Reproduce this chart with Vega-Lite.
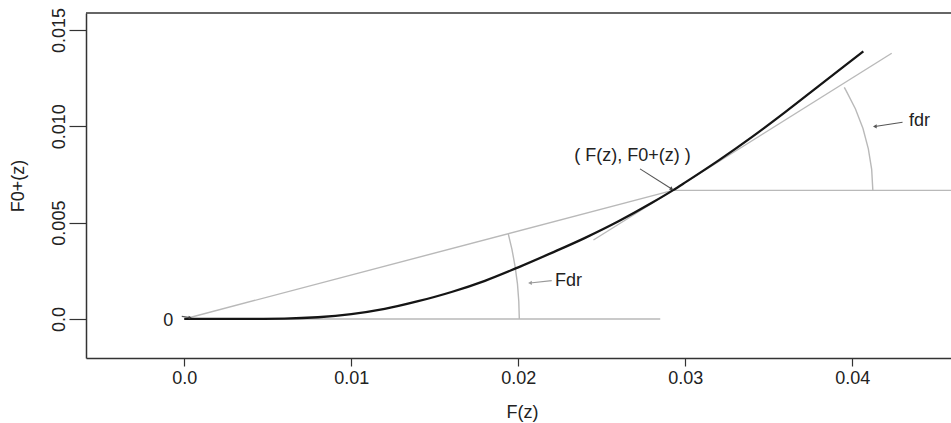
{
  "$schema": "https://vega.github.io/schema/vega-lite/v6.json",
  "width": 865,
  "height": 345,
  "autosize": "none",
  "padding": {"left": 86, "top": 13, "right": 0, "bottom": 65},
  "background": "white",
  "config": {"view": {"stroke": null}, "font": "Liberation Sans"},
  "datasets": {
    "lines": [
      {"series": "F0", "i": 0, "F": 0, "y": 0},
      {"series": "F0", "i": 1, "F": 0.002, "y": 0},
      {"series": "F0", "i": 2, "F": 0.004, "y": 0.000005},
      {"series": "F0", "i": 3, "F": 0.006, "y": 0.00002},
      {"series": "F0", "i": 4, "F": 0.008, "y": 0.00009},
      {"series": "F0", "i": 5, "F": 0.010, "y": 0.00025},
      {"series": "F0", "i": 6, "F": 0.012, "y": 0.00052},
      {"series": "F0", "i": 7, "F": 0.014, "y": 0.00092},
      {"series": "F0", "i": 8, "F": 0.016, "y": 0.00140},
      {"series": "F0", "i": 9, "F": 0.018, "y": 0.00198},
      {"series": "F0", "i": 10, "F": 0.020, "y": 0.00268},
      {"series": "F0", "i": 11, "F": 0.022, "y": 0.00343},
      {"series": "F0", "i": 12, "F": 0.024, "y": 0.00421},
      {"series": "F0", "i": 13, "F": 0.026, "y": 0.00507},
      {"series": "F0", "i": 14, "F": 0.028, "y": 0.00603},
      {"series": "F0", "i": 15, "F": 0.02925, "y": 0.006675},
      {"series": "F0", "i": 16, "F": 0.030, "y": 0.00709},
      {"series": "F0", "i": 17, "F": 0.032, "y": 0.00823},
      {"series": "F0", "i": 18, "F": 0.034, "y": 0.00945},
      {"series": "F0", "i": 19, "F": 0.036, "y": 0.01075},
      {"series": "F0", "i": 20, "F": 0.038, "y": 0.01210},
      {"series": "F0", "i": 21, "F": 0.0395, "y": 0.01311},
      {"series": "F0", "i": 22, "F": 0.04066, "y": 0.01389},

      {"series": "chord", "i": 0, "F": 0, "y": 0},
      {"series": "chord", "i": 1, "F": 0.02925, "y": 0.006675},
      {"series": "level", "i": 0, "F": 0.02925, "y": 0.006675},
      {"series": "level", "i": 1, "F": 0.04591, "y": 0.006675},
      {"series": "base", "i": 0, "F": 0, "y": 0},
      {"series": "base", "i": 1, "F": 0.0285, "y": 0},
      {"series": "tangent", "i": 0, "F": 0.0245, "y": 0.00410},
      {"series": "tangent", "i": 1, "F": 0.04236, "y": 0.01379},
      {"series": "arcFdr", "i": 0, "F": 0.02006, "y": 0},
      {"series": "arcFdr", "i": 1, "F": 0.02003, "y": 0.000910},
      {"series": "arcFdr", "i": 2, "F": 0.01995, "y": 0.001818},
      {"series": "arcFdr", "i": 3, "F": 0.01981, "y": 0.002720},
      {"series": "arcFdr", "i": 4, "F": 0.01962, "y": 0.003615},
      {"series": "arcFdr", "i": 5, "F": 0.01940, "y": 0.004412},
      {"series": "arcfdr", "i": 0, "F": 0.04123, "y": 0.006675},
      {"series": "arcfdr", "i": 1, "F": 0.04116, "y": 0.007760},
      {"series": "arcfdr", "i": 2, "F": 0.04096, "y": 0.008833},
      {"series": "arcfdr", "i": 3, "F": 0.04064, "y": 0.009883},
      {"series": "arcfdr", "i": 4, "F": 0.04019, "y": 0.010897},
      {"series": "arcfdr", "i": 5, "F": 0.03962, "y": 0.011865},
      {"series": "arcfdr", "i": 6, "F": 0.03952, "y": 0.012021},

      {"series": "arrowFdr", "i": 0, "F": 0.0207, "y": 0.00187},
      {"series": "arrowFdr", "i": 1, "F": 0.0220, "y": 0.00199},
      {"series": "arrowfdr", "i": 0, "F": 0.04135, "y": 0.00999},
      {"series": "arrowfdr", "i": 1, "F": 0.04301, "y": 0.01021},
      {"series": "arrowLab", "i": 0, "F": 0.02729, "y": 0.00779},
      {"series": "arrowLab", "i": 1, "F": 0.02919, "y": 0.00675},
      {"series": "arrow0", "i": 0, "F": -0.00015, "y": 0.000135},
      {"series": "arrow0", "i": 1, "F": 0.00035, "y": 0.00008}
    ],
    "heads": [
      {"head": "Fdr", "F": 0.0207, "y": 0.00187},
      {"head": "fdr", "F": 0.04135, "y": 0.00999},
      {"head": "lab", "F": 0.02919, "y": 0.00675},
      {"head": "zero", "F": 0.00035, "y": 0.00008}
    ],
    "labels": [
      {"label": "0", "pos": "center", "F": -0.00096, "y": -0.00009},
      {"label": "( F(z), F0+(z) )", "pos": "center", "F": 0.02684, "y": 0.00848},
      {"label": "Fdr", "pos": "left", "F": 0.0222, "y": 0.00199},
      {"label": "fdr", "pos": "left", "F": 0.0434, "y": 0.0103}
    ]
  },
  "encoding": {
    "x": {
      "field": "F", "type": "quantitative",
      "scale": {"domain": [-0.005886, 0.04591], "nice": false, "zero": false},
      "axis": {
        "title": "F(z)",
        "values": [0, 0.01, 0.02, 0.03, 0.04],
        "labelExpr": "datum.value == 0 ? '0.0' : format(datum.value, '.2f')",
        "grid": false,
        "domainColor": "#333", "domainWidth": 1.5,
        "tickColor": "#333", "tickWidth": 1.2, "tickSize": 8,
        "labelFontSize": 18, "labelColor": "#222", "labelPadding": 3,
        "labelFlush": false, "labelOverlap": false,
        "titleFontSize": 18, "titleFontWeight": "normal", "titleColor": "#222",
        "titleX": 436, "titleY": 54, "titleBaseline": "middle", "titleAlign": "center"
      }
    },
    "y": {
      "field": "y", "type": "quantitative",
      "scale": {"domain": [-0.002026, 0.01588], "nice": false, "zero": false},
      "axis": {
        "title": "F0+(z)",
        "values": [0, 0.005, 0.01, 0.015],
        "labelExpr": "datum.value == 0 ? '0.0' : format(datum.value, '.3f')",
        "grid": false,
        "domainColor": "#333", "domainWidth": 1.5,
        "tickColor": "#333", "tickWidth": 1.2, "tickSize": 17,
        "labelAngle": -90, "labelAlign": "center", "labelBaseline": "bottom",
        "labelFontSize": 18, "labelColor": "#222", "labelPadding": 1,
        "labelFlush": false, "labelOverlap": false,
        "titleFontSize": 18, "titleFontWeight": "normal", "titleColor": "#222",
        "titleAngle": -90, "titleX": -68, "titleY": 172.5,
        "titleBaseline": "middle", "titleAlign": "center"
      }
    }
  },
  "layer": [
    {
      "data": {"name": "lines"},
      "transform": [{"filter": "datum.series != 'F0' && indexof(datum.series, 'arrow') != 0"}],
      "mark": {"type": "line", "color": "#b9b9b9", "strokeWidth": 1.4, "clip": true},
      "encoding": {"detail": {"field": "series"}, "order": {"field": "i"}}
    },
    {
      "data": {"name": "lines"},
      "transform": [{"filter": "datum.series == 'arrowFdr'"}],
      "mark": {"type": "line", "color": "#999", "strokeWidth": 1.1},
      "encoding": {"order": {"field": "i"}}
    },
    {
      "data": {"name": "lines"},
      "transform": [{"filter": "indexof(datum.series, 'arrow') == 0 && datum.series != 'arrowFdr'"}],
      "mark": {"type": "line", "color": "#555", "strokeWidth": 1.1},
      "encoding": {"detail": {"field": "series"}, "order": {"field": "i"}}
    },
    {
      "data": {"name": "lines"},
      "transform": [{"filter": "datum.series == 'F0'"}],
      "mark": {"type": "line", "color": "#151515", "strokeWidth": 2.3, "interpolate": "monotone"},
      "encoding": {"order": {"field": "i"}}
    },
    {
      "data": {"name": "heads"},
      "transform": [{"filter": "datum.head == 'Fdr'"}],
      "mark": {"type": "point", "shape": "triangle-left", "filled": true, "color": "#999", "size": 18, "opacity": 1}
    },
    {
      "data": {"name": "heads"},
      "transform": [{"filter": "datum.head == 'fdr'"}],
      "mark": {"type": "point", "shape": "triangle-left", "filled": true, "color": "#555", "size": 18, "opacity": 1}
    },
    {
      "data": {"name": "heads"},
      "transform": [{"filter": "datum.head == 'lab'"}],
      "mark": {"type": "point", "shape": "triangle-right", "angle": 32, "filled": true, "color": "#444", "size": 18, "opacity": 1}
    },
    {
      "data": {"name": "heads"},
      "transform": [{"filter": "datum.head == 'zero'"}],
      "mark": {"type": "point", "shape": "triangle-right", "filled": true, "color": "#444", "size": 12, "opacity": 1}
    },
    {
      "data": {"name": "labels"},
      "transform": [{"filter": "datum.pos == 'center'"}],
      "mark": {"type": "text", "fontSize": 18, "color": "#222", "align": "center", "baseline": "middle"},
      "encoding": {"text": {"field": "label"}}
    },
    {
      "data": {"name": "labels"},
      "transform": [{"filter": "datum.pos == 'left'"}],
      "mark": {"type": "text", "fontSize": 18, "color": "#222", "align": "left", "baseline": "middle"},
      "encoding": {"text": {"field": "label"}}
    },
    {
      "data": {"values": [{"top": 0.01588, "a": -0.005886, "b": 0.04591}]},
      "mark": {"type": "rule", "color": "#333", "strokeWidth": 1.5},
      "encoding": {
        "x": {"field": "a", "type": "quantitative"},
        "x2": {"field": "b"},
        "y": {"field": "top", "type": "quantitative"}
      }
    }
  ]
}
